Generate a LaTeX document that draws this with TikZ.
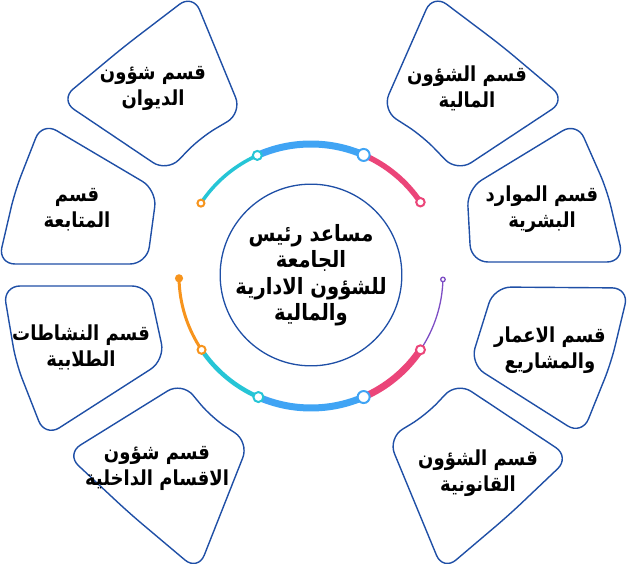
\documentclass[tikz,border=0pt]{standalone}
\usepackage{fontspec}
\usepackage{xcolor}
\usepackage{graphicx}
\usepackage{tikz}
\newfontfamily\arabicfont[Script=Arabic]{DejaVu Sans}
\TeXXeTstate=1
\newcommand{\artext}[1]{\scalebox{1}[1.15]{\beginR#1\endR}}
\definecolor{edgeblue}{HTML}{1F4FA6}
\definecolor{ringorange}{HTML}{F7941D}
\definecolor{ringcyan}{HTML}{26C5D6}
\definecolor{ringblue}{HTML}{40A4F4}
\definecolor{ringpink}{HTML}{EB4579}
\definecolor{ringpurple}{HTML}{7D4DC4}

\begin{document}
\begin{tikzpicture}[x=1pt, y=-1pt,
  petal/.style={draw=edgeblue, line width=1.4pt, rounded corners=17pt},
  lbl/.style={font=\arabicfont\bfseries\fontsize{18}{26}\selectfont, align=center},
  ring/.style={circle, draw, fill=white, line width=2pt, inner sep=0pt, minimum size=#1}]
  \useasboundingbox (0,0) rectangle (630,564);
  \draw[petal] (433,-6) -- (502,46) -- (566,100) -- (457,172) -- (422.6,136.1) -- (382,110) -- cycle;
  \draw[petal] (577,122) -- (607,190) -- (624,262) -- (471,262) -- (467,189) -- cycle;
  \draw[petal] (629,288) -- (611,363) -- (582,435) -- (470,364) -- (494,287) -- cycle;
  \draw[petal] (457,382) -- (570,457) -- (509,515) -- (443,571) -- (388,438) -- (426,415) -- cycle;
  \draw[petal] (182,382) -- (211.6,417.6) -- (249,442) -- (198,571) -- (129.4,513.2) -- (66,454) -- cycle;
  \draw[petal] (3,286) -- (149,286) -- (165,360) -- (45,437) -- (16,363) -- cycle;
  \draw[petal] (42,122) -- (157,190) -- (147,264) -- (-2,264) -- (15,191) -- cycle;
  \draw[petal] (193,-6) -- (242,113) -- (200.4,137.6) -- (167,172) -- (60,100) -- (123.7,46.9) -- cycle;

  \node[lbl] (maliya) at (467,88) {\artext{قسم الشؤون}\\\artext{المالية}};
  \node[lbl] (mawarid) at (542,209) {\artext{قسم الموارد}\\\artext{البشرية}};
  \node[lbl] (iemar) at (550,350) {\artext{قسم الاعمار}\\\artext{والمشاريع}};
  \node[lbl] (qanun) at (478,473) {\artext{قسم الشؤون}\\\artext{القانونية}};
  \node[lbl] (dakhil) at (157,468) {\artext{قسم شؤون}\\\artext{الاقسام الداخلية}};
  \node[lbl] (nashat) at (81,347) {\artext{قسم النشاطات}\\\artext{الطلابية}};
  \node[lbl] (mutabaa) at (77,210) {\artext{قسم}\\\artext{المتابعة}};
  \node[lbl] (diwan) at (153,88) {\artext{قسم شؤون}\\\artext{الديوان}};

  \node[lbl, font=\arabicfont\bfseries\fontsize{19.5}{26.5}\selectfont, circle, draw=edgeblue,
    line width=1.3pt, minimum size=178pt, inner sep=0pt] (musaid) at (311,275)
    {\artext{مساعد رئيس}\\\artext{الجامعة}\\\artext{للشؤون الادارية}\\\artext{والمالية}};

  \coordinate (cc) at (311,276);
  \coordinate (t1) at ([shift={(-146.5:132)}]cc);
  \coordinate (t2) at ([shift={(-114:132)}]cc);
  \coordinate (t3) at ([shift={(-66.5:132)}]cc);
  \coordinate (t4) at ([shift={(-34:132)}]cc);
  \coordinate (b0) at ([shift={(179:132)}]cc);
  \coordinate (b1) at ([shift={(146:132)}]cc);
  \coordinate (b2) at ([shift={(113.5:132)}]cc);
  \coordinate (b3) at ([shift={(66.5:132)}]cc);
  \coordinate (b4) at ([shift={(34:132)}]cc);
  \coordinate (b5) at ([shift={(1.5:132)}]cc);

  \draw[ringcyan, line width=3.5pt] (t1) arc (-146.5:-114:132);
  \draw[ringblue, line width=7pt] (t2) arc (-114:-66.5:132);
  \draw[ringpink, line width=5.5pt] (t3) arc (-66.5:-34:132);
  \draw[ringorange, line width=3pt] (b0) arc (179:146:132);
  \draw[ringcyan, line width=4.5pt] (b1) arc (146:113.5:132);
  \draw[ringblue, line width=7pt] (b2) arc (113.5:66.5:132);
  \draw[ringpink, line width=7pt] (b3) arc (66.5:34:132);
  \draw[ringpurple, line width=1.3pt] (b4) arc (34:1.5:132);

  \node[ring=7pt, draw=ringorange] (t1r) at (t1) {};
  \node[ring=9pt, draw=ringcyan] (t2r) at (t2) {};
  \node[ring=12pt, draw=ringblue] (t3r) at (t3) {};
  \node[ring=8.5pt, draw=ringpink] (t4r) at (t4) {};
  \node[ring=6pt, draw=ringorange, fill=ringorange] (b0r) at (b0) {};
  \node[ring=8pt, draw=ringorange] (b1r) at (b1) {};
  \node[ring=10pt, draw=ringcyan] (b2r) at (b2) {};
  \node[ring=12pt, draw=ringblue] (b3r) at (b3) {};
  \node[ring=9pt, draw=ringpink] (b4r) at (b4) {};
  \node[ring=4.5pt, draw=ringpurple, line width=1.3pt] (b5r) at (b5) {};
\end{tikzpicture}
\end{document}
